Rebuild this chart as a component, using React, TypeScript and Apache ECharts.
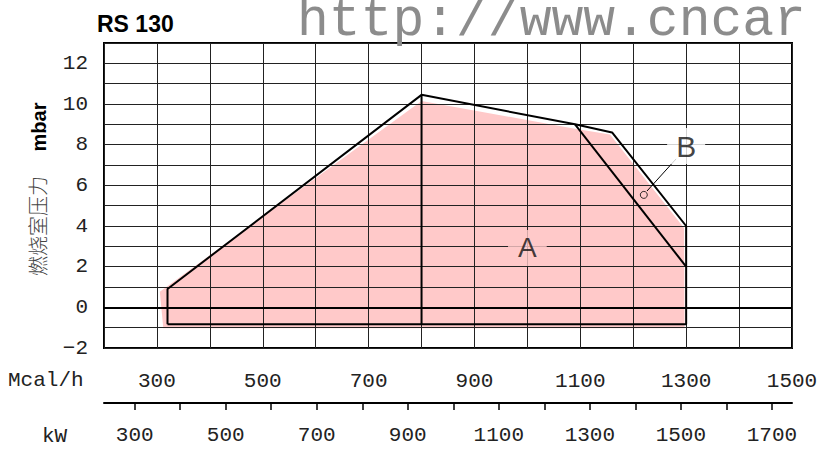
import React, { useEffect, useRef } from "react";
import * as echarts from "echarts";

// Axis ticks / labels
const mcalLabels = [300, 500, 700, 900, 1100, 1300, 1500];
const kwTicks = [300, 400, 500, 600, 700, 800, 900, 1000, 1100, 1200, 1300, 1400, 1500, 1600, 1700];
const kwLabels = [300, 500, 700, 900, 1100, 1300, 1500, 1700];
const yLabels = [-2, 0, 2, 4, 6, 8, 10, 12];
const KCAL_PER_KW = 0.86;

// Working field (Mcal/h, mbar)
const pinkRegion: number[][] = [
  [312, -1.03], [305.5, 0.77], [800, 10.15], [1087, 8.8], [1156, 8.5], [1296, 3.9], [1297, -1.03],
];
const outerOutline: number[][] = [
  [320, -0.83], [320, 0.9], [800, 10.45], [1090, 9.0], [1160, 8.6], [1300, 4.0], [1300, -0.83], [320, -0.83],
];
const divider: number[][] = [[800, 10.45], [800, -0.83]];
const innerCurve: number[][] = [[1090, 9.0], [1300, 2.0]];
const labelA: number[] = [1000, 2.92];
const labelB: number[] = [1300, 7.93];
const pointB: number[] = [1220, 5.53];
const leaderB: number[][] = [[1226, 5.72], [1281, 7.3]];

const PINK = "#ffc9c9";
const MONO = "'Liberation Mono', 'DejaVu Sans Mono', monospace";
const SANS = "'Liberation Sans', Arial, sans-serif";

const fmtPlain = (v: number) => String(Math.round(v));
const fmtMinus = (v: number) => String(v).replace("-", "\u2212");

export default function App() {
  const ref = useRef<HTMLDivElement>(null);
  useEffect(() => {
    if (!ref.current) return;
    const chart = echarts.init(ref.current, null, { renderer: "svg" });
    const blackLine = { color: "#000", width: 2 };
    const option: any = {
      animation: false,
      grid: {
        left: 104, right: 30, top: 43, bottom: 101,
        show: true, borderColor: "#000", borderWidth: 2, backgroundColor: "transparent",
      },
      xAxis: [
        {
          type: "value", min: 200, max: 1500, interval: 100, z: 3,
          axisLine: { show: false }, axisTick: { show: false },
          splitLine: { show: true, lineStyle: { color: "#222", width: 1 } },
          axisLabel: {
            customValues: mcalLabels, formatter: fmtPlain, margin: 23, fontFamily: MONO, fontSize: 21, color: "#222",
          },
        },
        {
          type: "value", position: "bottom", offset: 55,
          min: 200 / KCAL_PER_KW, max: 1500 / KCAL_PER_KW,
          axisLine: { show: true, lineStyle: { color: "#000", width: 2 } },
          axisTick: { show: true, customValues: kwTicks, length: 7, lineStyle: { color: "#000", width: 1.5 } },
          splitLine: { show: false },
          axisLabel: { customValues: kwLabels, formatter: fmtPlain, margin: 22, fontFamily: MONO, fontSize: 21, color: "#222" },
        },
      ],
      yAxis: {
        type: "value", min: -2, max: 13, interval: 1, z: 3,
        axisLine: { show: false }, axisTick: { show: false },
        splitLine: { show: true, lineStyle: { color: "#222", width: 1 } },
        axisLabel: {
          customValues: yLabels, formatter: (v: number) => fmtMinus(v),
          margin: 16, fontFamily: MONO, fontSize: 21, color: "#222",
        },
      },
      series: [
        {
          type: "custom", z: 1, silent: true, coordinateSystem: "cartesian2d",
          data: [pinkRegion[0]],
          renderItem: (_p: any, api: any) => ({
            type: "polygon",
            shape: { points: pinkRegion.map((p) => api.coord(p)) },
            style: { fill: PINK },
          }),
        },
        {
          type: "line", z: 5, silent: true, symbol: "none", data: outerOutline, lineStyle: blackLine,
          markLine: {
            silent: true, symbol: ["none", "none"], label: { show: false },
            lineStyle: { color: "#000", width: 2, type: "solid" },
            data: [{ yAxis: 0 }],
          },
        },
        { type: "line", z: 5, silent: true, symbol: "none", data: divider, lineStyle: blackLine },
        { type: "line", z: 5, silent: true, symbol: "none", data: innerCurve, lineStyle: blackLine },
        { type: "line", z: 5, silent: true, symbol: "none", data: leaderB, lineStyle: { color: "#000", width: 1 } },
        {
          type: "scatter", z: 6, silent: true, symbol: "circle", symbolSize: 7,
          itemStyle: { color: "rgba(0,0,0,0)", borderColor: "#000", borderWidth: 1 },
          data: [pointB],
        },
        {
          type: "scatter", z: 7, silent: true, symbolSize: 1,
          itemStyle: { color: "rgba(0,0,0,0)" },
          data: [
            {
              value: labelA,
              label: {
                show: true, position: "inside", formatter: "A", fontFamily: SANS, fontSize: 28,
                color: "#111", backgroundColor: PINK, padding: [4, 10],
              },
            },
            {
              value: labelB,
              label: {
                show: true, position: "inside", formatter: "B", fontFamily: SANS, fontSize: 30,
                color: "#111", backgroundColor: "#fff", padding: [3, 9],
              },
            },
          ],
        },
      ],
      graphic: [
        {
          type: "text", x: 297, y: 21, z: 20, silent: true,
          style: { text: "http://www.cncar", fontFamily: MONO, fontSize: 53, fill: "#8c8c8c", align: "left", verticalAlign: "middle" },
        },
        {
          type: "text", x: 97, y: 24, z: 20,
          style: { text: "RS 130", fontFamily: SANS, fontWeight: "bold", fontSize: 23, fill: "#000", align: "left", verticalAlign: "middle" },
        },
        {
          type: "text", x: 39, y: 127, rotation: Math.PI / 2, z: 20,
          style: { text: "mbar", fontFamily: SANS, fontWeight: "bold", fontSize: 20, fill: "#000", align: "center", verticalAlign: "middle" },
        },
        {
          type: "text", x: 37, y: 226, rotation: Math.PI / 2, z: 20,
          style: { text: "燃烧室压力", fontFamily: "'Noto Sans CJK SC', sans-serif", fontWeight: 300, fontSize: 20, fill: "#444", align: "center", verticalAlign: "middle" },
        },
        {
          type: "text", x: 8, y: 380, z: 20,
          style: { text: "Mcal/h", fontFamily: MONO, fontSize: 21, fill: "#222", align: "left", verticalAlign: "middle" },
        },
        {
          type: "text", x: 42, y: 436, z: 20,
          style: { text: "kW", fontFamily: MONO, fontSize: 21, fill: "#222", align: "left", verticalAlign: "middle" },
        },
      ],
    };
    chart.setOption(option);
    return () => chart.dispose();
  }, []);
  return (
    <div
      ref={ref}
      style={{ position: "fixed", left: 0, top: 0, width: 822, height: 449, background: "#fff" }}
    />
  );
}
